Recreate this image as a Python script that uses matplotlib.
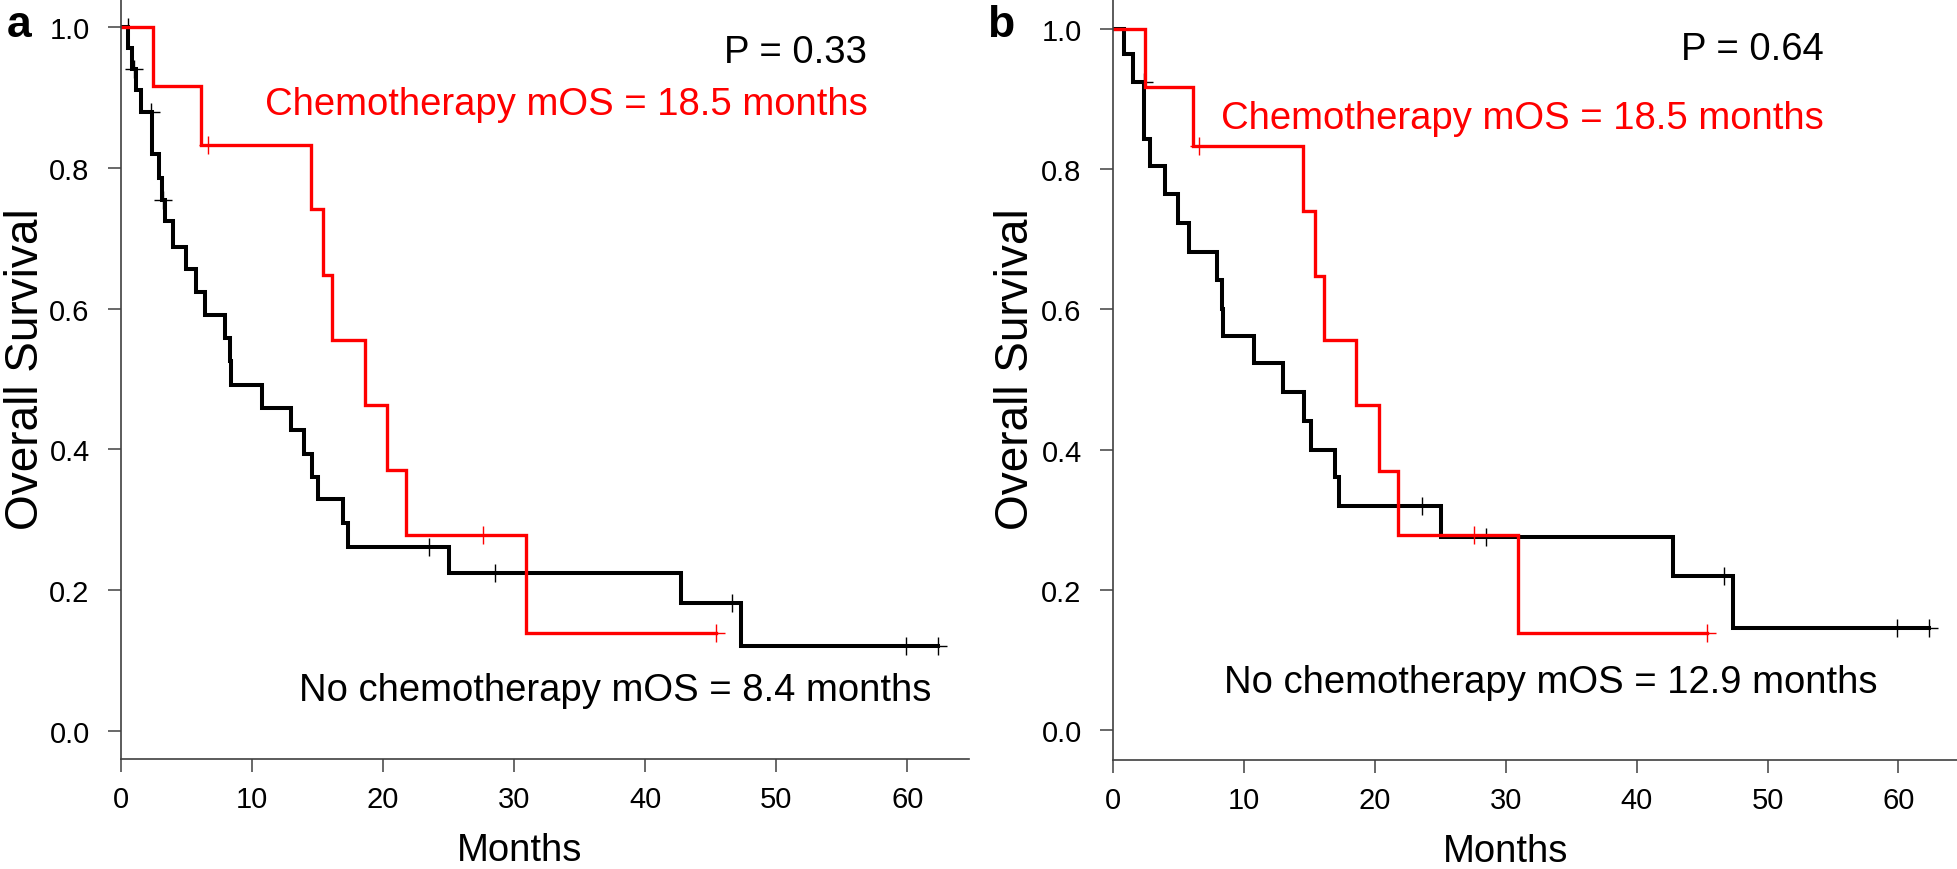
import matplotlib
matplotlib.use("Agg")
import matplotlib.pyplot as plt

plt.rcParams['font.family'] = ['Liberation Sans', 'DejaVu Sans']

# chemotherapy group (same curve in both panels)
chemo_t = [0, 2.46, 6.1, 14.5, 15.45, 16.1, 18.6, 20.3, 21.76, 30.9, 45.4]
chemo_s = [1.0, 0.917, 0.833, 0.741, 0.648, 0.556, 0.463, 0.370, 0.278, 0.139, 0.139]
chemo_cens_t = [6.6, 27.6, 45.4]
chemo_cens_s = [0.833, 0.278, 0.139]

# panel a, no chemotherapy
a_t = [0, 0.55, 0.81, 1.12, 1.53, 2.33, 2.93, 3.1, 3.36, 4.0, 4.96, 5.73, 6.41,
       7.94, 8.3, 8.4, 10.74, 13.0, 13.97, 14.6, 15.0, 16.9, 17.3, 25.0, 42.75, 47.3, 62.3]
a_s = [1.0, 0.971, 0.940, 0.911, 0.879, 0.820, 0.786, 0.755, 0.7245, 0.688, 0.657, 0.623, 0.591,
       0.558, 0.525, 0.492, 0.459, 0.428, 0.394, 0.361, 0.329, 0.295, 0.261, 0.224, 0.182, 0.120, 0.120]
a_cens_t = [0.53, 1.0, 2.3, 3.23, 23.5, 28.5, 46.6, 59.9, 62.3]
a_cens_s = [1.0, 0.940, 0.879, 0.755, 0.261, 0.224, 0.182, 0.120, 0.120]

# panel b, no chemotherapy
b_t = [0, 0.87, 1.53, 2.33, 2.85, 4.0, 4.97, 5.78, 7.94, 8.33, 8.4, 10.75, 12.96,
       14.6, 15.1, 16.96, 17.3, 25.03, 42.8, 47.4, 62.3]
b_s = [1.0, 0.964, 0.925, 0.843, 0.805, 0.764, 0.723, 0.682, 0.642, 0.601, 0.5625, 0.5235, 0.482,
       0.441, 0.400, 0.3605, 0.319, 0.275, 0.219, 0.145, 0.145]
b_cens_t = [2.33, 23.6, 28.5, 46.7, 59.9, 62.3]
b_cens_s = [0.925, 0.319, 0.275, 0.219, 0.145, 0.145]

x_ticks = [0, 10, 20, 30, 40, 50, 60]
y_ticks = [0.0, 0.2, 0.4, 0.6, 0.8, 1.0]
y_ticklabels = ["0.0", "0.2", "0.4", "0.6", "0.8", "1.0"]

W, H = 1958, 870
fig = plt.figure(figsize=(W / 100, H / 100), dpi=100)


def px_axes(left, right, top, bottom):
    return fig.add_axes([left / W, 1 - bottom / H, (right - left) / W, (bottom - top) / H])


def draw_panel(ax, t, s, ct, cs, xmax, ylim, ptext, notext, ppos, chpos, nopos, xlab_x):
    ax.step(t, s, where='post', color='black', lw=2.9, solid_joinstyle='miter')
    ax.plot(ct, cs, ls='none', marker='+', ms=13, mew=1.0, color='black')
    ax.step(chemo_t, chemo_s, where='post', color='#ff0000', lw=2.4, solid_joinstyle='miter')
    ax.plot(chemo_cens_t, chemo_cens_s, ls='none', marker='+', ms=13, mew=1.0, color='#ff0000')

    ax.set_xlim(0, xmax)
    ax.set_ylim(*ylim)
    for side in ['top', 'right']:
        ax.spines[side].set_visible(False)
    for side in ['left', 'bottom']:
        ax.spines[side].set_color('#404040')
        ax.spines[side].set_linewidth(1.2)
    ax.set_xticks(x_ticks)
    ax.set_yticks(y_ticks)
    ax.set_yticklabels(y_ticklabels)
    ax.tick_params(length=9.5, width=1.1, color='#404040', labelsize=21)
    ax.tick_params(axis='y', pad=13)
    ax.tick_params(axis='x', pad=9)

    ax.text(ppos[0], ppos[1], ptext, ha='right', va='baseline', fontsize=27.5, color='black')
    ax.text(chpos[0], chpos[1], "Chemotherapy mOS = 18.5 months", ha='right', va='baseline',
            fontsize=27.5, color='#ff0000')
    ax.text(nopos[0], nopos[1], notext, ha='right', va='baseline', fontsize=27.5, color='black')
    ax.text(xlab_x, -0.133, "Months", transform=ax.transAxes, ha='center', va='baseline',
            fontsize=27.5, clip_on=False)


ax1 = px_axes(121, 969, 0, 760)
draw_panel(ax1, a_t, a_s, a_cens_t, a_cens_s, 64.7, (-0.04, 1.04),
           "P = 0.33", "No chemotherapy mOS = 8.4 months",
           (56.95, 0.950), (56.95, 0.876), (61.8, 0.044), 0.4705)

ax2 = px_axes(1113, 1958, 0, 761)
draw_panel(ax2, b_t, b_s, b_cens_t, b_cens_s, 64.55, (-0.0428, 1.0428),
           "P = 0.64", "No chemotherapy mOS = 12.9 months",
           (54.3, 0.957), (54.3, 0.859), (58.4, 0.054), 0.464)

# y labels and panel letters
fig.text(26 / W, 1 - 369 / H, "Overall Survival", rotation=90, ha='center', va='center', fontsize=33)
fig.text(1016 / W, 1 - 369 / H, "Overall Survival", rotation=90, ha='center', va='center', fontsize=33)
fig.text(7 / W, 1 - 37 / H, "a", fontsize=32, fontweight='bold', ha='left', va='baseline')
fig.text(987 / W, 1 - 37 / H, "b", fontsize=32, fontweight='bold', ha='left', va='baseline')

fig.savefig("out.png", dpi=100)
